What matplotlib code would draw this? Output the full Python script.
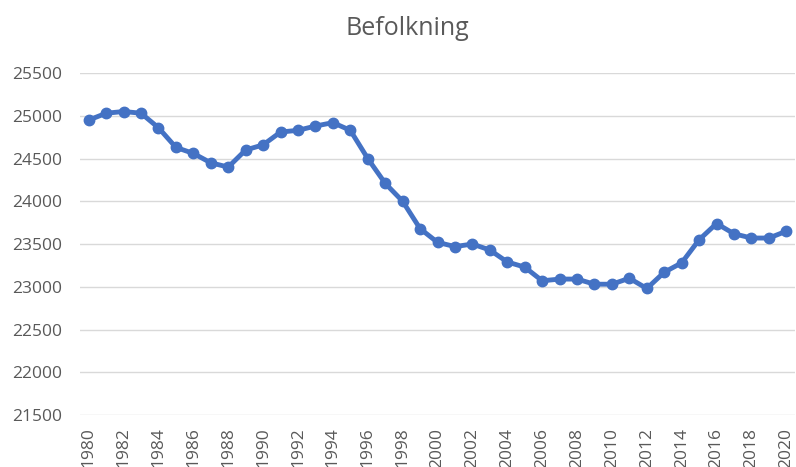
import matplotlib
matplotlib.use("Agg")
from matplotlib import pyplot as plt

# data
years = list(range(1980, 2021))
population = [24950, 25030, 25050, 25030, 24860, 24630, 24560, 24450, 24400, 24600,
              24660, 24810, 24830, 24880, 24920, 24830, 24500, 24210, 24000, 23680,
              23520, 23470, 23500, 23430, 23290, 23230, 23070, 23090, 23090, 23030,
              23030, 23100, 22980, 23170, 23280, 23550, 23740, 23620, 23570, 23570,
              23650]
yticks = list(range(21500, 26000, 500))
xticks = years[::2]

plt.rcParams['font.family'] = ['Open Sans', 'DejaVu Sans']

fig = plt.figure(figsize=(7.96, 4.67), dpi=100)
ax = fig.add_axes([0.1005, 0.1113, 0.8983, 0.7323])

ax.plot(years, population, color='#4472C4', linewidth=3.5,
        marker='o', markersize=7.5, solid_capstyle='round', zorder=3)

ax.set_xlim(1979.5, 2020.5)
ax.set_ylim(21500, 25500)
ax.set_yticks(yticks)
ax.set_xticks(xticks)
ax.set_xticklabels([str(y) for y in xticks], rotation=90, va='top')
ax.grid(axis='y', color='#d9d9d9', linewidth=1)
ax.set_axisbelow(True)
for s in ax.spines.values():
    s.set_visible(False)
ax.tick_params(length=0, colors='#595959', labelsize=12.5)
ax.tick_params(axis='y', pad=13)
ax.tick_params(axis='x', pad=9)

fig.text(0.512, 0.94, 'Befolkning', ha='center', va='center', fontsize=18, color='#595959')

fig.savefig('out.png', dpi=100)
